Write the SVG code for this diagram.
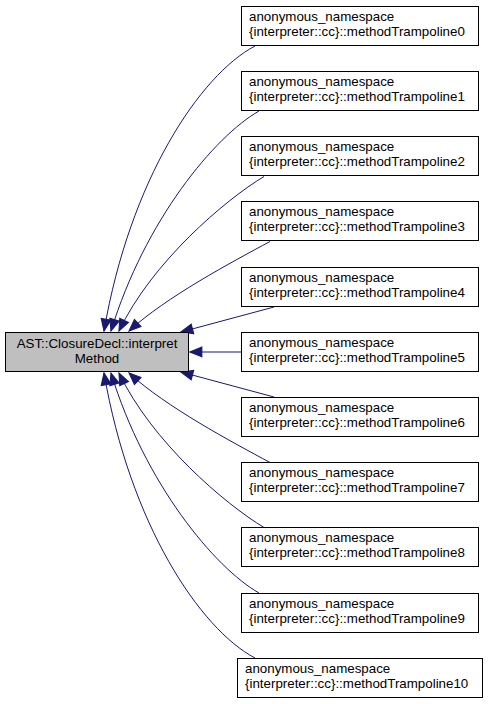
<svg xmlns="http://www.w3.org/2000/svg" width="488" height="704" viewBox="0 0 488 704">
<style>
.n rect{fill:#ffffff;stroke:#000000;stroke-width:1}
.m rect{fill:#bfbfbf;stroke:#000000;stroke-width:1}
text{font-family:"Liberation Sans",Arial,Helvetica,sans-serif;font-size:13.33px;fill:#000000}
.e path{fill:none;stroke:#191970;stroke-width:1;marker-end:url(#ah)}
</style>
<defs>
<marker id="ah" markerUnits="userSpaceOnUse" markerWidth="14" markerHeight="12" refX="11" refY="4.5" orient="auto" viewBox="-1 -1 13 11">
<polygon points="0,0 11,4.5 0,9" fill="#191970" stroke="#191970" stroke-width="1"/>
</marker>
</defs>
<rect width="488" height="704" fill="#ffffff"/>
<g id="edges" class="e">
<path d="M255,46 C200,75 130,180 104,331"/>
<path d="M259,111 C215,136 145,220 111,331"/>
<path d="M264,176.5 C225,200 152,262 119,331"/>
<path d="M270,241.5 C232,262 166,297 129,331"/>
<path d="M274,307 L181,332"/>
<path d="M241,352 L190,352"/>
<path d="M274,397 L181,372"/>
<path d="M270,462.5 C232,442 166,407 129,373"/>
<path d="M264,527.5 C225,504 152,442 119,373"/>
<path d="M259,593 C215,568 145,484 111,373"/>
<path d="M255,658 C200,629 130,524 104,373"/>
</g>
<g id="main" class="m">
<rect x="5.5" y="332.5" width="183" height="39"/>
<text x="97" y="348" text-anchor="middle">AST::ClosureDecl::interpret</text>
<text x="97" y="363" text-anchor="middle">Method</text>
</g>
<g id="t0" class="n"><rect x="241.5" y="6.5" width="237" height="39"/><text x="249" y="21">anonymous_namespace</text><text x="249" y="36">{interpreter::cc}::methodTrampoline0</text></g>
<g id="t1" class="n"><rect x="241.5" y="71.5" width="237" height="39"/><text x="249" y="86">anonymous_namespace</text><text x="249" y="101">{interpreter::cc}::methodTrampoline1</text></g>
<g id="t2" class="n"><rect x="241.5" y="136.5" width="237" height="39"/><text x="249" y="151">anonymous_namespace</text><text x="249" y="166">{interpreter::cc}::methodTrampoline2</text></g>
<g id="t3" class="n"><rect x="241.5" y="201.5" width="237" height="39"/><text x="249" y="216">anonymous_namespace</text><text x="249" y="231">{interpreter::cc}::methodTrampoline3</text></g>
<g id="t4" class="n"><rect x="241.5" y="267.5" width="237" height="39"/><text x="249" y="282">anonymous_namespace</text><text x="249" y="297">{interpreter::cc}::methodTrampoline4</text></g>
<g id="t5" class="n"><rect x="241.5" y="332.5" width="237" height="39"/><text x="249" y="347">anonymous_namespace</text><text x="249" y="362">{interpreter::cc}::methodTrampoline5</text></g>
<g id="t6" class="n"><rect x="241.5" y="397.5" width="237" height="39"/><text x="249" y="412">anonymous_namespace</text><text x="249" y="427">{interpreter::cc}::methodTrampoline6</text></g>
<g id="t7" class="n"><rect x="241.5" y="462.5" width="237" height="39"/><text x="249" y="477">anonymous_namespace</text><text x="249" y="492">{interpreter::cc}::methodTrampoline7</text></g>
<g id="t8" class="n"><rect x="241.5" y="527.5" width="237" height="39"/><text x="249" y="542">anonymous_namespace</text><text x="249" y="557">{interpreter::cc}::methodTrampoline8</text></g>
<g id="t9" class="n"><rect x="241.5" y="593.5" width="237" height="39"/><text x="249" y="608">anonymous_namespace</text><text x="249" y="623">{interpreter::cc}::methodTrampoline9</text></g>
<g id="t10" class="n"><rect x="237.5" y="658.5" width="245" height="39"/><text x="245" y="673">anonymous_namespace</text><text x="245" y="688">{interpreter::cc}::methodTrampoline10</text></g>
</svg>
